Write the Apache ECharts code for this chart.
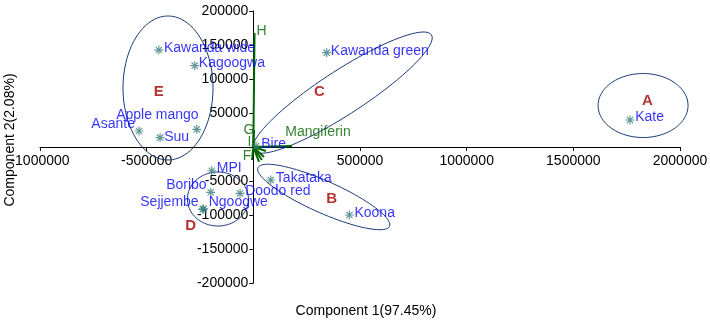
<!DOCTYPE html>
<html>
<head>
<meta charset="utf-8">
<script src="https://cdn.jsdelivr.net/npm/echarts@6/dist/echarts.min.js"></script>
<style>
html, body { margin: 0; padding: 0; background: #fff; }
#chart-container { width: 710px; height: 324px; }
</style>
</head>
<body>
<div id="chart-container"></div>
<script>
// scores of the varieties (PC1, PC2)
const varieties = ['Kawanda wide', 'Kagoogwa', 'Apple mango', 'Asante', 'Suu', 'Kawanda green', 'Kate', 'Bire',
	'MPI', 'Boribo', 'Doodo red', 'Sejjembe', 'Ngoogwe', 'Takataka', 'Koona'];
const comp1 = [-443000, -274700, -265300, -535800, -437300, 344000, 1765800, 12700,
	-195000, -199700, -62300, -237200, -233000, 81600, 450000];
const comp2 = [142600, 119600, 26000, 23500, 13700, 138700, 39700, 1500,
	-34900, -66600, -68100, -91600, -91000, -48500, -100000];

// loadings (biplot vectors)
const loadingNames = ['H', 'G', 'I', 'F', 'Mangiferin', '', '', '', ''];
const loading1 = [5600, 3000, 1000, -6000, 181400, 40000, 50000, 26700, 59500];
const loading2 = [167600, 25000, 8800, -19100, 1500, -19100, -14700, -22000, -5900];

// cluster letters
const clusterNames = ['A', 'B', 'C', 'D', 'E'];
const cluster1 = [1846900, 367500, 309400, -293400, -443400];
const cluster2 = [68100, -76500, 81300, -116200, 81300];

// axis ranges
const xRange = [-1000000, 2000000, 500000];
const yRange = [-200000, 200000, 50000];

// label placement: side, distance, vertical offset
const labelPlace = {
	'Kawanda wide': ['right', 0, -2],
	'Kagoogwa': ['right', -1, -3],
	'Apple mango': ['left', -7, -14],
	'Asante': ['left', -1, -7],
	'Suu': ['right', -1, -1],
	'Kawanda green': ['right', -1, -2],
	'Kate': ['right', 0, -3],
	'Bire': ['right', 0, -2],
	'MPI': ['right', 0, -3],
	'Boribo': ['left', -1, -7],
	'Doodo red': ['right', 0, -2],
	'Sejjembe': ['left', -1, -7],
	'Ngoogwe': ['right', 0, -7],
	'Takataka': ['right', 0, -2],
	'Koona': ['right', 0, -2]
};
// offsets of the loading labels from the vector tip
const loadingLabelOffset = {
	'H': [7, -2], 'G': [-5, 0], 'I': [-4, 1], 'F': [-5, -4], 'Mangiferin': [26, -14]
};
// ellipses round the clusters: centre (data), radii px, angle deg
const rings = [
	[1826800, 61000, 45, 32, 0],
	[330000, -73500, 72, 16, -24],
	[418000, 80000, 106, 22, 33],
	[-166000, -76500, 30.5, 27, 0],
	[-400000, 86800, 45, 72, 0]
];

const FONT = '"Liberation Sans", Arial, sans-serif';
const GREEN = '#006400';
const starPath = 'path://M5,0L5,10M0,5L10,5M1.5,1.5L8.5,8.5M1.5,8.5L8.5,1.5';

// plot area
const G = { left: 40, right: 30, top: 11, bottom: 41 };
const W = 710 - G.left - G.right, H = 324 - G.top - G.bottom;
// move the axes so they cross at the origin
const yAxisShift = -W * (0 - xRange[0]) / (xRange[1] - xRange[0]);
const xAxisShift = -H * (0 - yRange[0]) / (yRange[1] - yRange[0]);

const myChart = echarts.init(document.getElementById('chart-container'));

const loadingLines = loading1.map((x, i) => ({
	type: 'line',
	data: [[0, 0], [x, loading2[i]]],
	symbol: 'none',
	silent: true,
	lineStyle: { color: GREEN, width: 2 },
	z: 3
}));

const option = {
	animation: false,
	grid: { left: G.left, right: G.right, top: G.top, bottom: G.bottom, outerBoundsMode: 'none', containLabel: false },
	xAxis: {
		type: 'value',
		position: 'bottom',
		offset: xAxisShift,
		min: xRange[0], max: xRange[1], interval: xRange[2],
		splitLine: { show: false },
		axisLine: { onZero: false, lineStyle: { color: '#000', width: 1 } },
		axisTick: { length: 4, lineStyle: { color: '#000' } },
		axisLabel: {
			color: '#000', fontSize: 14, fontFamily: FONT, margin: 7,
			formatter: v => v === 0 ? '' : String(v)
		}
	},
	yAxis: {
		type: 'value',
		position: 'left',
		offset: yAxisShift,
		min: yRange[0], max: yRange[1], interval: yRange[2],
		splitLine: { show: false },
		axisLine: { onZero: false, lineStyle: { color: '#000', width: 1 } },
		axisTick: { length: 4, lineStyle: { color: '#000' } },
		axisLabel: {
			color: '#000', fontSize: 14, fontFamily: FONT, margin: 5,
			formatter: v => v === 0 ? '' : String(v)
		}
	},
	graphic: [
		{
			type: 'text', x: 366, y: 311,
			style: { text: 'Component 1(97.45%)', fill: '#000', font: '14px ' + FONT, textAlign: 'center', textVerticalAlign: 'middle' }
		},
		{
			type: 'text', x: 10, y: 140, rotation: Math.PI / 2,
			style: { text: 'Component 2(2.08%)', fill: '#000', font: '14px ' + FONT, textAlign: 'center', textVerticalAlign: 'middle' }
		}
	],
	series: [
		{
			type: 'custom',
			silent: true,
			data: rings,
			encode: { x: 0, y: 1 },
			renderItem: (params, api) => {
				const c = api.coord([api.value(0), api.value(1)]);
				const rx = api.value(2), ry = api.value(3), a = api.value(4) * Math.PI / 180;
				const pts = [];
				for (let k = 0; k <= 90; k++) {
					const t = k / 90 * Math.PI * 2;
					const ex = rx * Math.cos(t), ey = ry * Math.sin(t);
					pts.push([c[0] + ex * Math.cos(a) + ey * Math.sin(a), c[1] - ex * Math.sin(a) + ey * Math.cos(a)]);
				}
				return {
					type: 'polyline',
					shape: { points: pts },
					style: { fill: 'none', stroke: '#1a3a7a', lineWidth: 1 }
				};
			},
			z: 1
		},
		...loadingLines,
		{
			// loading labels
			type: 'scatter',
			symbolSize: 0,
			silent: true,
			data: loading1.map((x, i) => ({
				value: [x, loading2[i]],
				name: loadingNames[i],
				label: {
					show: loadingNames[i] !== '',
					position: 'inside',
					offset: loadingLabelOffset[loadingNames[i]] || [0, 0]
				}
			})),
			label: { formatter: '{b}', color: GREEN, fontSize: 14, fontFamily: FONT },
			z: 4
		},
		{
			// varieties
			type: 'scatter',
			symbol: starPath,
			symbolSize: 9,
			itemStyle: { color: 'rgba(0,0,0,0)', borderColor: '#3a7d7d', borderWidth: 1.2 },
			data: varieties.map((n, i) => ({
				value: [comp1[i], comp2[i]],
				name: n,
				label: {
					position: labelPlace[n][0],
					distance: labelPlace[n][1],
					offset: [0, labelPlace[n][2]]
				}
			})),
			label: { show: true, formatter: '{b}', color: '#0000ff', fontSize: 14, fontFamily: FONT },
			z: 5
		},
		{
			// cluster letters
			type: 'scatter',
			symbolSize: 0,
			silent: true,
			data: clusterNames.map((n, i) => ({ value: [cluster1[i], cluster2[i]], name: n })),
			label: {
				show: true, position: 'inside', formatter: '{b}',
				color: '#a00000', fontSize: 15, fontWeight: 'bold', fontFamily: FONT
			},
			z: 5
		}
	]
};

myChart.setOption(option);
</script>
</body>
</html>
